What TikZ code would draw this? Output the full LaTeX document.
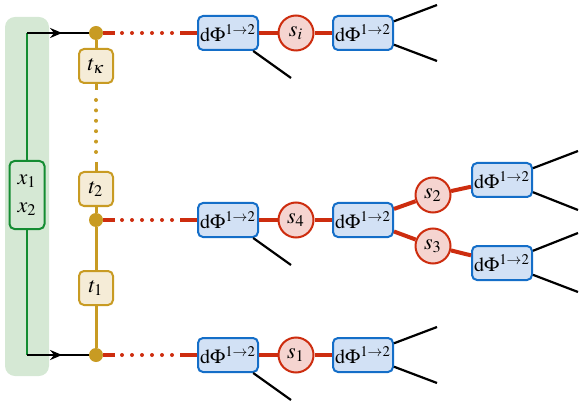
\documentclass[tikz,border=0pt]{standalone}
\usepackage{amsmath}
\usepackage{mathptmx}
\usepackage{xcolor}
\usetikzlibrary{arrows.meta,decorations.markings}
\definecolor{greenline}{RGB}{20,140,50}
\definecolor{greenbg}{RGB}{213,232,212}
\definecolor{gold}{RGB}{200,155,35}
\definecolor{goldfill}{RGB}{245,236,215}
\definecolor{blueline}{RGB}{20,110,200}
\definecolor{bluefill}{RGB}{210,225,245}
\definecolor{redline}{RGB}{205,45,15}
\definecolor{redfill}{RGB}{245,212,208}

\tikzset{
  phase/.style={draw=blueline, fill=bluefill, line width=1pt, rounded corners=2.5pt,
    minimum width=30pt, minimum height=17pt, inner sep=1pt},
  inv/.style={circle, draw=redline, fill=redfill, line width=1pt, minimum size=17.5pt, inner sep=0pt,
    font=\fontsize{11}{13}\selectfont},
  tbox/.style={draw=gold, fill=goldfill, line width=1pt, rounded corners=2.5pt,
    minimum size=17pt, inner sep=0pt, font=\fontsize{11}{13}\selectfont},
  xbox/.style={draw=greenline, fill=greenbg, line width=1pt, rounded corners=2.5pt,
    minimum width=17.5pt, minimum height=34pt, inner sep=0pt, align=center,
    font=\fontsize{11}{13}\selectfont},
  gdot/.style={circle, fill=gold, minimum size=7pt, inner sep=0pt},
  prop/.style={redline, line width=2pt},
  propdots/.style={prop, line cap=round, dash pattern=on 0pt off 5pt},
  tline/.style={gold, line width=1.5pt},
  tdots/.style={gold, line width=2pt, line cap=round, dash pattern=on 0pt off 5.2pt},
  leg/.style={black, line width=1.1pt},
  midarrow/.style={black, line width=1.1pt, decoration={markings,
    mark=at position 0.57 with {\arrow{Stealth[length=6pt,width=5pt]}}}, postaction={decorate}},
}
\newcommand{\dphi}{$\mathrm{d}\Phi^{1\to2}$}

\begin{document}
\begin{tikzpicture}[x=0.5pt,y=-0.5pt]
\useasboundingbox (0,0) rectangle (581,405);

% incoming momenta
\fill[greenbg, rounded corners=5pt] (5,17) rectangle (49,376);
\node[xbox] (x) at (27,195) {$x_1$\\[1pt]$x_2$};
\coordinate (ctop) at (27,33);
\coordinate (cbot) at (27,355);

% t-channel ladder
\node[gdot] (d3) at (96,33) {};
\node[gdot] (d2) at (96,220) {};
\node[gdot] (d1) at (96,355) {};
\node[tbox] (tk) at (96,66) {$t_\kappa$};
\node[tbox] (t2) at (96,189) {$t_2$};
\node[tbox] (t1) at (96,288) {$t_1$};
\coordinate (g1) at (96,90);
\coordinate (g2) at (96,100);
\coordinate (g3) at (96,152);
\coordinate (g4) at (96,162);

\draw[greenline, line width=1.1pt] (x.north) -- (ctop);
\draw[greenline, line width=1.1pt] (x.south) -- (cbot);
\draw[midarrow] (ctop) -- (d3);
\draw[midarrow] (cbot) -- (d1);

\draw[tline] (d3) -- (tk);
\draw[tline] (tk) -- (g1);
\draw[tdots] (g2) -- (g3);
\draw[tline] (g4) -- (t2);
\draw[tline] (t2) -- (d2);
\draw[tline] (d2) -- (t1);
\draw[tline] (t1) -- (d1);

% decay chains
\node[phase] (a3) at (228,33) {\dphi};
\node[inv] (s3) at (296,33) {$s_i$};
\node[phase] (b3) at (363,33) {\dphi};
\node[phase] (a2) at (228,220) {\dphi};
\node[inv] (s2) at (296,220) {$s_4$};
\node[phase] (b2) at (363,220) {\dphi};
\node[phase] (a1) at (228,355) {\dphi};
\node[inv] (s1) at (296,355) {$s_1$};
\node[phase] (b1) at (363,355) {\dphi};
\node[inv] (su) at (433,195) {$s_2$};
\node[inv] (sl) at (433,246) {$s_3$};
\node[phase] (cu) at (502,180) {\dphi};
\node[phase] (cl) at (502,263) {\dphi};

\coordinate (p1) at (115,0);
\coordinate (p2) at (122,0);
\coordinate (p3) at (173,0);
\coordinate (p4) at (180,0);
\foreach \r in {1,2,3} {
  \draw[prop] (d\r) -- (d\r -| p1);
  \draw[propdots] (d\r -| p2) -- (d\r -| p3);
  \draw[prop] (d\r -| p4) -- (a\r);
  \draw[prop] (a\r) -- (s\r);
  \draw[prop] (s\r) -- (b\r);
}
\draw[prop] (b2) -- (su);
\draw[prop] (b2) -- (sl);
\draw[prop] (su) -- (cu);
\draw[prop] (sl) -- (cl);

% outgoing legs
\coordinate (o3) at (291,78);
\coordinate (o2) at (291,265);
\coordinate (o1) at (291,400);
\coordinate (e3u) at (437,5);
\coordinate (e3l) at (437,61);
\coordinate (e1u) at (437,327);
\coordinate (e1l) at (437,383);
\coordinate (fuu) at (578,151);
\coordinate (ful) at (578,210);
\coordinate (flu) at (578,233);
\coordinate (fll) at (578,292);
\draw[leg] (a3) -- (o3);
\draw[leg] (a2) -- (o2);
\draw[leg] (a1) -- (o1);
\draw[leg] (b3) -- (e3u);
\draw[leg] (b3) -- (e3l);
\draw[leg] (b1) -- (e1u);
\draw[leg] (b1) -- (e1l);
\draw[leg] (cu) -- (fuu);
\draw[leg] (cu) -- (ful);
\draw[leg] (cl) -- (flu);
\draw[leg] (cl) -- (fll);
\end{tikzpicture}
\end{document}
